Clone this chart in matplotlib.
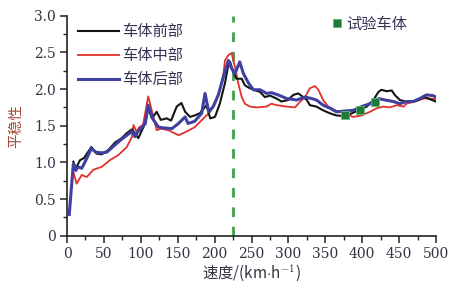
import matplotlib
matplotlib.use("Agg")
import matplotlib.pyplot as plt
from matplotlib.lines import Line2D
from matplotlib.ticker import MultipleLocator, FixedLocator

plt.rcParams['font.family'] = ['Noto Sans CJK SC', 'DejaVu Sans']
plt.rcParams['mathtext.fontset'] = 'cm'

# ---- data ----
front_x = [8.6, 12, 17.6, 23, 33, 40, 47, 56, 65, 74, 81, 88, 96.6, 105.7, 110, 115, 121.5, 127, 135, 141,
           148.6, 155, 160, 166.7, 173, 180, 189, 194, 200.5, 207, 214, 218.6, 221, 225, 229.6, 236.7, 241,
           246, 252.5, 261.5, 268, 275, 284, 290.6, 299.5, 306.6, 313.4, 320, 325, 329, 338, 347, 356, 365,
           377, 386, 395, 406, 415, 422, 426, 433, 440, 444, 451, 458, 470, 476, 485, 492, 499.5]
front_y = [1.01, 0.92, 1.03, 1.06, 1.21, 1.12, 1.11, 1.17, 1.27, 1.33, 1.40, 1.45, 1.33, 1.53, 1.74, 1.60, 1.69, 1.58, 1.60, 1.57,
           1.76, 1.81, 1.69, 1.62, 1.64, 1.67, 1.78, 1.60, 1.62, 1.80, 2.08, 2.33, 2.37, 2.24, 2.14, 2.14, 2.05,
           2.02, 1.99, 1.96, 1.89, 1.91, 1.87, 1.83, 1.85, 1.92, 1.94, 1.89, 1.85, 1.78, 1.76, 1.71, 1.67, 1.64,
           1.63, 1.67, 1.71, 1.76, 1.85, 1.96, 1.99, 1.97, 1.98, 1.92, 1.85, 1.83, 1.83, 1.85, 1.89, 1.86, 1.83]

middle_x = [8.6, 13, 20, 26.6, 35.6, 47, 58, 69.5, 81, 88, 90, 94, 98, 103, 110, 121.5, 128, 137, 151, 162,
            173, 180, 194, 200.5, 207, 212, 214, 218.6, 223, 227.6, 232, 236.7, 241, 248, 257, 270, 277, 284,
            297.5, 309, 316, 322.5, 329, 336, 340.5, 347, 354, 363, 374, 388, 399, 410.6, 420, 428.6, 437.6,
            447, 456, 460, 471.5, 483, 492, 499.5]
middle_y = [0.87, 0.71, 0.83, 0.80, 0.90, 0.94, 1.03, 1.10, 1.21, 1.35, 1.51, 1.42, 1.48, 1.51, 1.90, 1.44, 1.46, 1.44, 1.37, 1.42,
            1.48, 1.55, 1.69, 1.80, 1.98, 2.21, 2.39, 2.46, 2.49, 2.30, 2.08, 1.89, 1.80, 1.76, 1.75, 1.76, 1.80, 1.78,
            1.76, 1.75, 1.83, 1.89, 2.01, 2.04, 1.99, 1.85, 1.76, 1.71, 1.67, 1.62, 1.64, 1.69, 1.74, 1.76, 1.75,
            1.78, 1.76, 1.80, 1.83, 1.87, 1.87, 1.86]

rear_x = [3, 8.6, 12, 15, 20, 27, 33, 39, 47, 54, 63, 72, 81, 88, 92, 96, 106, 110, 117, 124, 131, 142, 151,
          160, 164, 173, 182.5, 187, 192, 198, 205, 212, 218.6, 223, 227.6, 234, 239, 246, 252.5, 261.5,
          270.6, 277, 286, 297.6, 311, 322.5, 331.5, 338, 347, 356, 365, 377, 388, 399, 410.6, 422, 431, 442,
          451, 460, 469, 478, 487, 496, 499.5]
rear_y = [0.29, 0.98, 0.89, 0.94, 0.92, 1.06, 1.19, 1.14, 1.13, 1.14, 1.22, 1.30, 1.37, 1.42, 1.35, 1.42, 1.53, 1.78, 1.58, 1.48, 1.47, 1.46, 1.53,
          1.62, 1.53, 1.56, 1.67, 1.94, 1.69, 1.76, 1.92, 2.17, 2.39, 2.28, 2.21, 2.37, 2.21, 2.08, 1.99, 1.99,
          1.94, 1.95, 1.92, 1.87, 1.85, 1.89, 1.87, 1.85, 1.78, 1.74, 1.69, 1.70, 1.71, 1.76, 1.80, 1.87, 1.85, 1.83,
          1.80, 1.83, 1.83, 1.87, 1.92, 1.91, 1.89]

test_x = [377, 397, 417]
test_y = [1.65, 1.71, 1.82]

critical_speed = 225

series_labels = ['车体前部', '车体中部', '车体后部']
test_label = '试验车体'
x_ticks = [0, 50, 100, 150, 200, 250, 300, 350, 400, 450, 500]
y_ticks = [0, 0.5, 1.0, 1.5, 2.0, 2.5, 3.0]
y_tick_labels = ['0', '0.5', '1.0', '1.5', '2.0', '2.5', '3.0']

# ---- figure ----
fig = plt.figure(figsize=(4.59, 2.89), dpi=100)
ax = fig.add_axes([0.146, 0.184, 0.804, 0.762])

l1, = ax.plot(front_x, front_y, color='#141414', lw=1.5, label=series_labels[0], zorder=3)
l2, = ax.plot(middle_x, middle_y, color='#e2302c', lw=1.3, label=series_labels[1], zorder=2)
l3, = ax.plot(rear_x, rear_y, color='#4040a2', lw=2.2, label=series_labels[2], zorder=4)
ax.axvline(critical_speed, color='#3fa24a', lw=2.0, ls=(0, (3.5, 3.5)), zorder=1)
ax.plot(test_x, test_y, ls='none', marker='s', ms=5.5, color='#1f7a3a', mec='#5fbf6f', mew=0.6, zorder=5)

ax.set_xlim(0, 500)
ax.set_ylim(0, 3.0)
ax.xaxis.set_major_locator(FixedLocator(x_ticks))
ax.xaxis.set_minor_locator(MultipleLocator(25))
ax.yaxis.set_major_locator(FixedLocator(y_ticks))
ax.yaxis.set_minor_locator(MultipleLocator(0.25))
ax.set_yticklabels(y_tick_labels)

for s in ['top', 'right']:
    ax.spines[s].set_visible(False)
for s in ['left', 'bottom']:
    ax.spines[s].set_linewidth(1.2)
    ax.spines[s].set_color('#222222')

ax.tick_params(axis='both', which='major', direction='out', length=5, width=1.1,
               labelsize=10, colors='#222222', pad=3)
ax.tick_params(axis='both', which='minor', direction='out', length=3, width=1.0, colors='#222222')
for lab in ax.get_xticklabels() + ax.get_yticklabels():
    lab.set_family('DejaVu Serif')
    lab.set_color('#333344')

ax.set_xlabel('速度/(km$\\cdot$h$^{-1}$)', fontsize=11, color='#333344',
              family=['Noto Sans CJK SC', 'DejaVu Sans'], labelpad=1)
ax.set_ylabel('平稳性', fontsize=10.5, color='#a04a3a', family=['Noto Sans CJK SC', 'DejaVu Sans'], labelpad=8)

cjk = {'family': ['Noto Sans CJK SC', 'DejaVu Sans'], 'size': 11}
leg1 = ax.legend(handles=[l1, l2, l3], loc='upper left', bbox_to_anchor=(0.03, 0.965), frameon=False,
                 borderaxespad=0, borderpad=0, handlelength=2.7, handletextpad=0.2, labelspacing=0.45,
                 prop=cjk)
for t in leg1.get_texts():
    t.set_color('#333355')
ax.add_artist(leg1)

h_test = Line2D([], [], ls='none', marker='s', ms=5.5, color='#1f7a3a', mec='#5fbf6f', mew=0.6)
leg2 = ax.legend(handles=[h_test], labels=[test_label], loc='upper left', bbox_to_anchor=(0.715, 1.0),
                 frameon=False, borderaxespad=0, borderpad=0, handlelength=0.8, handletextpad=0.2,
                 prop=cjk)
for t in leg2.get_texts():
    t.set_color('#333355')

fig.savefig('out.png', dpi=100)
